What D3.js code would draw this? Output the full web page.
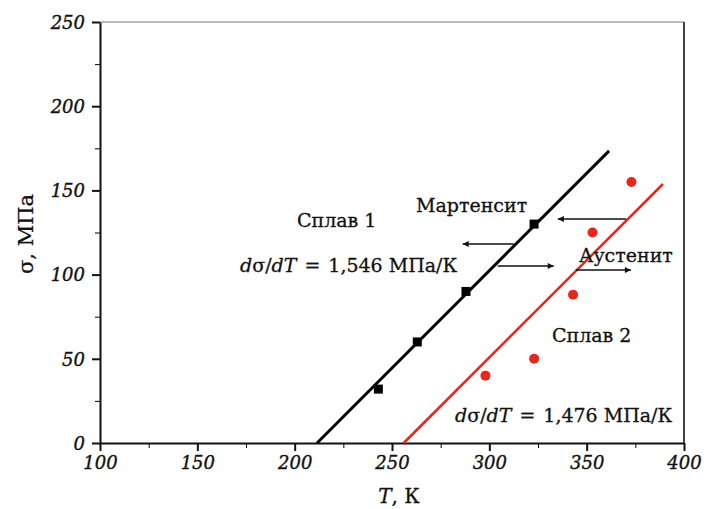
<!DOCTYPE html>
<html>
<head>
<meta charset="utf-8">
<script src="https://cdn.jsdelivr.net/npm/d3@7"></script>
<style>
  body { margin: 0; background: #fff; }
  svg { display: block; font-family: "DejaVu Serif", serif; }
</style>
</head>
<body>
<div id="chart"></div>
<script>
// Alloy 1 (martensite, black squares)
const alloy1T = [243, 263, 288, 323];
const alloy1S = [32, 60, 90, 130];
// Alloy 2 (austenite, red circles)
const alloy2T = [298, 323, 343, 353, 373];
const alloy2S = [40, 50, 88, 125, 155];
// fitted lines [T, sigma] endpoints
const fit1 = [[211.5, 0], [361.5, 173.5]];
const fit2 = [[256, 0], [389.2, 153.8]];
// arrows: from T to T at sigma
const arrows = [
  { t0: 370.2, t1: 335.2, s: 133 },
  { t0: 312.5, t1: 286.3, s: 118.2 },
  { t0: 304.3, t1: 333.1, s: 105.1 },
  { t0: 344.4, t1: 372.7, s: 102.7 }
];
const xTicks = [100, 150, 200, 250, 300, 350, 400];
const yTicks = [0, 50, 100, 150, 200, 250];

const width = 707, height = 509;
const margin = { top: 22, right: 23, bottom: 66, left: 100 };

const svg = d3.select("#chart").append("svg")
  .attr("width", width)
  .attr("height", height);

const x = d3.scaleLinear().domain([100, 400]).range([margin.left, width - margin.right]);
const y = d3.scaleLinear().domain([0, 250]).range([height - margin.bottom, margin.top]);

svg.append("defs").append("marker")
  .attr("id", "head")
  .attr("viewBox", "0 0 10 10")
  .attr("refX", 10).attr("refY", 5)
  .attr("markerWidth", 11).attr("markerHeight", 6)
  .attr("markerUnits", "userSpaceOnUse")
  .attr("orient", "auto")
  .append("path").attr("d", "M0,0 L10,5 L0,10 Z").attr("fill", "#111");

// frame top and right
svg.append("line")
  .attr("x1", x(100)).attr("x2", x(400)).attr("y1", y(250)).attr("y2", y(250))
  .attr("stroke", "#777").attr("stroke-width", 1);
svg.append("line")
  .attr("x1", x(400)).attr("x2", x(400)).attr("y1", y(250)).attr("y2", y(0))
  .attr("stroke", "#444").attr("stroke-width", 2);

// minor ticks
svg.append("g")
  .attr("transform", `translate(0,${y(0)})`)
  .call(d3.axisBottom(x).tickValues(d3.range(125, 400, 50)).tickSize(5).tickFormat(""))
  .call(g => g.select(".domain").remove());
svg.append("g")
  .attr("transform", `translate(${x(100)},0)`)
  .call(d3.axisLeft(y).tickValues(d3.range(25, 250, 50)).tickSize(5).tickFormat(""))
  .call(g => g.select(".domain").remove());

const xAxis = svg.append("g")
  .attr("transform", `translate(0,${y(0)})`)
  .call(d3.axisBottom(x).tickValues(xTicks).tickSize(8).tickSizeOuter(0).tickPadding(5));
const yAxis = svg.append("g")
  .attr("transform", `translate(${x(100)},0)`)
  .call(d3.axisLeft(y).tickValues(yTicks).tickSize(8).tickSizeOuter(0).tickPadding(7));

[xAxis, yAxis].forEach(g => {
  g.selectAll("path, line").attr("stroke", "#111").attr("stroke-width", 2);
  g.selectAll("text")
    .attr("fill", "#111")
    .attr("stroke", "#111").attr("stroke-width", 0.35)
    .style("font-family", "DejaVu Serif, serif")
    .style("font-style", "italic")
    .style("font-size", "18px");
});
yAxis.selectAll("text").attr("dy", "0.35em");

// fitted lines
const line = d3.line().x(d => x(d[0])).y(d => y(d[1]));
svg.append("path").attr("d", line(fit1)).attr("fill", "none")
  .attr("stroke", "#000").attr("stroke-width", 3);
svg.append("path").attr("d", line(fit2)).attr("fill", "none")
  .attr("stroke", "#e8261c").attr("stroke-width", 2.5);

// points
svg.selectAll(".sq").data(alloy1T).enter().append("rect")
  .attr("x", (d, i) => x(d) - 4.5).attr("y", (d, i) => y(alloy1S[i]) - 4.5)
  .attr("width", 9).attr("height", 9).attr("fill", "#000");
svg.selectAll(".ci").data(alloy2T).enter().append("circle")
  .attr("cx", d => x(d)).attr("cy", (d, i) => y(alloy2S[i]))
  .attr("r", 5).attr("fill", "#e8261c");

// arrows
svg.selectAll(".arrow").data(arrows).enter().append("line")
  .attr("x1", d => x(d.t0)).attr("x2", d => x(d.t1))
  .attr("y1", d => y(d.s)).attr("y2", d => y(d.s))
  .attr("stroke", "#111").attr("stroke-width", 1.5)
  .attr("marker-end", "url(#head)");

// annotations
const fs = "19px";
function label(px, py, parts) {
  const t = svg.append("text").attr("x", px).attr("y", py)
    .attr("fill", "#111").attr("stroke", "#111").attr("stroke-width", 0.3)
    .style("font-size", fs);
  parts.forEach(p => t.append("tspan").text(p[0])
    .attr("dx", p[2] || 0)
    .style("font-style", p[1] ? "italic" : "normal"));
  return t;
}
label(297, 227, [["Сплав 1"]]);
label(416, 212, [["Мартенсит"]]);
label(240, 272, [["d", 1], ["σ/"], ["dT", 1], ["=", 0, 8], ["1,546 МПа/К", 0, 8]]);
label(579, 262, [["Аустенит"]]);
label(552, 342, [["Сплав 2"]]);
label(455, 422, [["d", 1], ["σ/"], ["dT", 1], ["=", 0, 8], ["1,476 МПа/К", 0, 8]]);

// axis titles
svg.append("text").attr("x", 399).attr("y", 503).attr("text-anchor", "middle")
  .style("font-size", "20px").attr("fill", "#111")
  .attr("stroke", "#111").attr("stroke-width", 0.3)
  .call(t => {
    t.append("tspan").text("T").style("font-style", "italic");
    t.append("tspan").text(", К");
  });
svg.append("text")
  .attr("transform", `translate(33,${234}) rotate(-90)`)
  .attr("text-anchor", "middle")
  .style("font-size", "21px").attr("fill", "#111")
  .attr("stroke", "#111").attr("stroke-width", 0.3)
  .text("σ, МПа");
</script>
</body>
</html>
